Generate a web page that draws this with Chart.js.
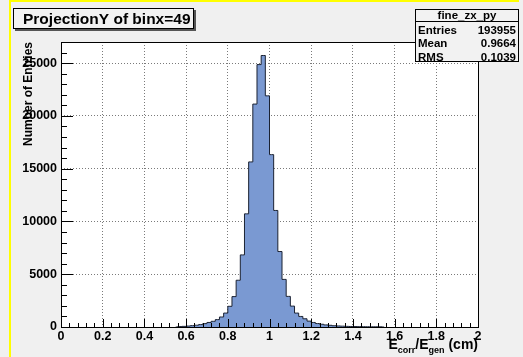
<!DOCTYPE html>
<html>
<head>
<meta charset="utf-8">
<script src="https://cdn.jsdelivr.net/npm/chart.js@4"></script>
<style>
  body { margin: 0; background: #f0f0f0; }
  canvas { display: block; }
</style>
</head>
<body>
<canvas id="myChart" width="523" height="357"></canvas>
<script>
// bin centres (bin width 0.02), empty bins left out
var binCenters = [0.55, 0.57, 0.59, 0.61, 0.63, 0.65, 0.67, 0.69, 0.71, 0.73,
  0.75, 0.77, 0.79, 0.81, 0.83, 0.85, 0.87, 0.89, 0.91, 0.93,
  0.95, 0.97, 0.99, 1.01, 1.03, 1.05, 1.07, 1.09, 1.11, 1.13,
  1.15, 1.17, 1.19, 1.21, 1.23, 1.25, 1.27, 1.29, 1.31, 1.33,
  1.35, 1.37, 1.39, 1.41, 1.43, 1.45, 1.47, 1.49, 1.51, 1.53, 1.55];
var binCounts = [0, 40, 60, 90, 130, 170, 230, 320, 430, 540,
  700, 950, 1320, 1960, 2880, 4430, 6830, 10720, 15640, 21120,
  24860, 25720, 21900, 16330, 11040, 7150, 4510, 2900, 1980, 1320,
  1000, 780, 560, 430, 330, 260, 200, 160, 120, 100,
  80, 60, 50, 40, 35, 30, 25, 20, 20, 15, 0];

var xTickValues = [0, 0.2, 0.4, 0.6, 0.8, 1, 1.2, 1.4, 1.6, 1.8, 2];
var xTickLabels = ['0', '0.2', '0.4', '0.6', '0.8', '1', '1.2', '1.4', '1.6', '1.8', '2'];
var yTickValues = [0, 5000, 10000, 15000, 20000, 25000];
var yTickLabels = ['0', '5000', '10000', '15000', '20000', '25000'];

var histTitle = 'ProjectionY of binx=49';
var statsName = 'fine_zx_py';
var statsRows = [['Entries', '193955'], ['Mean', '0.9664'], ['RMS', '0.1039']];

var FONT = '"Liberation Sans", Arial, sans-serif';

/* background, frame, minor ticks, boxes */
var rootLook = {
  id: 'rootLook',
  beforeDraw: function (chart) {
    var c = chart.ctx, a = chart.chartArea;
    c.save();
    c.fillStyle = '#f0f0f0';
    c.fillRect(0, 0, chart.width, chart.height);
    c.fillStyle = '#ffffff';
    c.fillRect(a.left, a.top, a.right - a.left, a.bottom - a.top);
    c.restore();
  },
  afterDraw: function (chart) {
    var c = chart.ctx, a = chart.chartArea;
    var xs = chart.scales.x, ys = chart.scales.y;
    c.save();

    // frame
    c.strokeStyle = '#000';
    c.lineWidth = 1;
    c.strokeRect(Math.round(a.left) + 0.5, Math.round(a.top) + 0.5,
      Math.round(a.right - a.left), Math.round(a.bottom - a.top));

    // ticks (inside the frame)
    c.beginPath();
    var i, px, py, len;
    for (i = 0; i <= 50; i++) {
      px = Math.round(xs.getPixelForValue(i * 0.04)) + 0.5;
      len = (i % 5 === 0) ? 8 : 4;
      c.moveTo(px, a.bottom);
      c.lineTo(px, a.bottom - len);
    }
    for (i = 0; i <= 27; i++) {
      py = Math.round(ys.getPixelForValue(i * 1000)) + 0.5;
      len = (i % 5 === 0) ? 12 : 6;
      c.moveTo(a.left, py);
      c.lineTo(a.left + len, py);
    }
    c.stroke();

    // y title
    c.fillStyle = '#000';
    c.font = 'bold 12px ' + FONT;
    c.save();
    c.translate(32, a.top);
    c.rotate(-Math.PI / 2);
    c.textAlign = 'right';
    c.textBaseline = 'alphabetic';
    c.fillText('Number of Entries', 0, 0);
    c.restore();

    // x title E_corr/E_gen (cm), right aligned
    var parts = [['E', 14, 0], ['corr', 9, 4], ['/E', 14, 0], ['gen', 9, 4], [' (cm)', 14, 0]];
    var total = 0;
    parts.forEach(function (p) { c.font = 'bold ' + p[1] + 'px ' + FONT; total += c.measureText(p[0]).width; });
    var tx = a.right - total;
    c.textAlign = 'left';
    parts.forEach(function (p) {
      c.font = 'bold ' + p[1] + 'px ' + FONT;
      c.fillText(p[0], tx, 349 + p[2]);
      tx += c.measureText(p[0]).width;
    });

    // title box
    c.fillStyle = '#555';
    c.fillRect(15, 10, 181, 21);
    c.fillStyle = '#f2f2f2';
    c.fillRect(13, 8, 181, 21);
    c.strokeStyle = '#000';
    c.strokeRect(13.5, 8.5, 180, 20);
    c.fillStyle = '#000';
    c.font = 'bold 15.5px ' + FONT;
    c.fillText(histTitle, 23, 24);

    // stats box
    c.fillStyle = '#f2f2f2';
    c.fillRect(415, 9, 104, 53);
    c.strokeRect(415.5, 9.5, 103, 52);
    c.beginPath();
    c.moveTo(415, 21.5);
    c.lineTo(519, 21.5);
    c.stroke();
    c.fillStyle = '#000';
    c.font = 'bold 11.5px ' + FONT;
    c.textAlign = 'center';
    c.fillText(statsName, 467, 19);
    statsRows.forEach(function (r, k) {
      var by = 33.5 + k * 13.5;
      c.textAlign = 'left';
      c.fillText(r[0], 418, by);
      c.textAlign = 'right';
      c.fillText(r[1], 516, by);
    });

    // yellow pad highlight
    c.fillStyle = '#ffff00';
    c.fillRect(9, 0, 2, chart.height);
    c.fillRect(9, 0, 510, 2);
    c.restore();
  }
};

var ctx = document.getElementById('myChart');

var myChart = new Chart(ctx, {
  type: 'line',
  data: {
    datasets: [{
      data: binCenters.map(function (x, i) { return { x: x, y: binCounts[i] }; }),
      stepped: 'middle',
      fill: 'origin',
      backgroundColor: 'rgb(122,153,210)',
      borderColor: '#1b2232',
      borderWidth: 1,
      pointRadius: 0
    }]
  },
  options: {
    responsive: false,
    animation: false,
    layout: { padding: { left: 0, top: 42, right: 45, bottom: 0 } },
    plugins: { legend: { display: false }, tooltip: { enabled: false } },
    scales: {
      x: {
        type: 'linear',
        min: 0,
        max: 2,
        afterBuildTicks: function (s) { s.ticks = xTickValues.map(function (v) { return { value: v }; }); },
        afterFit: function (s) { s.height = 30; },
        ticks: {
          padding: 2,
          maxRotation: 0,
          color: '#000',
          font: { family: FONT, size: 12.5, weight: 'bold' },
          callback: function (v) { return xTickLabels[xTickValues.indexOf(v)]; }
        },
        grid: {
          drawTicks: false,
          color: function (c) { return (c.tick && (c.tick.value === 0 || c.tick.value === 2)) ? 'rgba(0,0,0,0)' : '#7a7a7a'; },
          lineWidth: 1
        },
        border: { display: false, dash: [1, 2] }
      },
      y: {
        min: 0,
        max: 27000,
        afterBuildTicks: function (s) { s.ticks = yTickValues.map(function (v) { return { value: v }; }); },
        afterFit: function (s) { s.width = 61; },
        ticks: {
          padding: 4,
          color: '#000',
          font: { family: FONT, size: 12.5, weight: 'bold' },
          callback: function (v) { return yTickLabels[yTickValues.indexOf(v)]; }
        },
        grid: {
          drawTicks: false,
          color: function (c) { return (c.tick && c.tick.value === 0) ? 'rgba(0,0,0,0)' : '#7a7a7a'; },
          lineWidth: 1
        },
        border: { display: false, dash: [1, 2] }
      }
    }
  },
  plugins: [rootLook]
});
</script>
</body>
</html>
